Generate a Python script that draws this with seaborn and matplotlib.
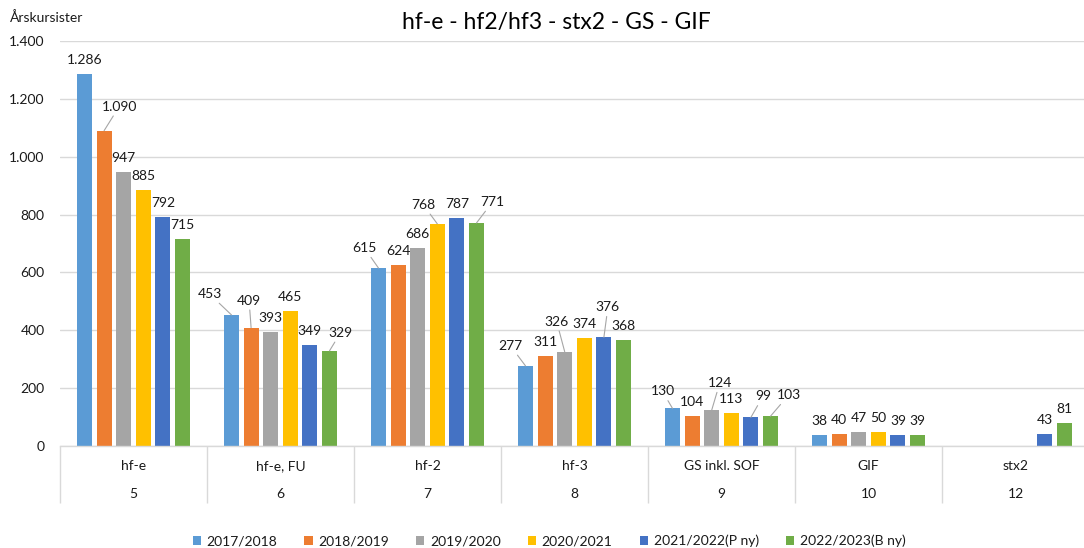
import matplotlib

matplotlib.use("Agg")
import matplotlib.pyplot as plt
import matplotlib.transforms as mtransforms
import numpy as np
import pandas as pd
import seaborn as sns
from matplotlib.ticker import FuncFormatter, MultipleLocator

# --- data ---
categories = ["hf-e", "hf-e, FU", "hf-2", "hf-3", "GS inkl. SOF", "GIF", "stx2"]
category_numbers = ["5", "6", "7", "8", "9", "10", "12"]
seasons = [
    "2017/2018",
    "2018/2019",
    "2019/2020",
    "2020/2021",
    "2021/2022(P ny)",
    "2022/2023(B ny)",
]
v_2017 = [1286, 453, 615, 277, 130, 38, np.nan]
v_2018 = [1090, 409, 624, 311, 104, 40, np.nan]
v_2019 = [947, 393, 686, 326, 124, 47, np.nan]
v_2020 = [885, 465, 768, 374, 113, 50, np.nan]
v_2021 = [792, 349, 787, 376, 99, 39, 43]
v_2022 = [715, 329, 771, 368, 103, 39, 81]

colors = ["#5B9BD5", "#ED7D31", "#A5A5A5", "#FFC000", "#4472C4", "#70AD47"]

# label placement (dx, up) in pixels from the bar top, for the labels Excel moved
label_moves = {
    (0, 1): (15, 24),
    (1, 0): (-22, 21),
    (1, 1): (-2, 27),
    (1, 5): (11, 18),
    (2, 0): (-14, 20),
    (2, 3): (-14, 19),
    (2, 5): (16, 21),
    (3, 0): (-15, 20),
    (3, 2): (-8, 30),
    (3, 4): (4, 30),
    (4, 0): (-10, 17),
    (4, 2): (8, 27),
    (4, 4): (12, 21),
    (4, 5): (18, 21),
}

rows = []
for season, vals in zip(seasons, [v_2017, v_2018, v_2019, v_2020, v_2021, v_2022]):
    for cat, v in zip(categories, vals):
        rows.append({"Kategori": cat, "Sæson": season, "Årskursister": v})
df = pd.DataFrame(rows).dropna()

sns.set_style("white")
plt.rcParams["font.family"] = ["Lato", "DejaVu Sans"]
text_color = "#1A1A1A"
grid_color = "#D9D9D9"


def dot_thousands(v, pos=None):
    return f"{int(round(v)):,}".replace(",", ".")


fig = plt.figure(figsize=(10.84, 5.48), dpi=100)
ax = fig.add_axes([60 / 1084, 102 / 548, 1029 / 1084, 405 / 548])

sns.barplot(
    data=df,
    x="Kategori",
    y="Årskursister",
    hue="Sæson",
    order=categories,
    hue_order=seasons,
    palette=colors,
    saturation=1,
    errorbar=None,
    width=0.8,
    gap=0.23,
    linewidth=0,
    ax=ax,
)

ax.set_xlim(-0.5, len(categories) - 0.5)
ax.set_ylim(0, 1400)
ax.yaxis.set_major_locator(MultipleLocator(200))
ax.yaxis.set_major_formatter(FuncFormatter(dot_thousands))
ax.grid(axis="y", color=grid_color, linewidth=1.0)
ax.set_axisbelow(True)
for side in ["left", "right", "top"]:
    ax.spines[side].set_visible(False)
ax.spines["bottom"].set_color(grid_color)
ax.spines["bottom"].set_linewidth(1.0)
ax.tick_params(axis="y", length=0, pad=11, labelsize=10, labelcolor=text_color)
ax.tick_params(axis="x", length=0, labelbottom=False)
ax.set_xlabel("")
ax.set_ylabel("")

# data labels
px = 0.72
for si, cont in enumerate(ax.containers):
    for bar in cont:
        h = bar.get_height()
        if np.isnan(h) or h == 0:
            continue
        cx = bar.get_x() + bar.get_width() / 2
        ci = int(round(cx))
        dx, up = label_moves.get((ci, si), (0, 14))
        arrow = None
        if (ci, si) in label_moves:
            arrow = dict(arrowstyle="-", color="#A6A6A6", lw=0.8, shrinkA=0, shrinkB=0)
        ax.annotate(
            dot_thousands(h),
            xy=(cx, h),
            xytext=(dx * px, up * px),
            textcoords="offset points",
            ha="center",
            va="center",
            fontsize=10,
            color=text_color,
            arrowprops=arrow,
        )

# category table under the axis
trans = mtransforms.blended_transform_factory(ax.transData, ax.transAxes)
for i, (name, num) in enumerate(zip(categories, category_numbers)):
    ax.text(i, -20 / 405, name, transform=trans, ha="center", va="center",
            fontsize=10, color=text_color)
    ax.text(i, -48 / 405, num, transform=trans, ha="center", va="center",
            fontsize=10, color=text_color)
ax.vlines(np.arange(len(categories)) - 0.5, -57 / 405, 0, transform=trans,
          colors=grid_color, linewidth=1.0, clip_on=False)

fig.text(556 / 1084, 1 - 22 / 548, "hf-e - hf2/hf3 - stx2 - GS - GIF",
         ha="center", va="center", fontsize=16.5, color="#000000")
fig.text(10 / 1084, 1 - 18 / 548, "Årskursister", ha="left", va="center",
         fontsize=10, color=text_color)

sns.move_legend(
    ax,
    loc="center",
    bbox_to_anchor=(549 / 1084, 7 / 548),
    bbox_transform=fig.transFigure,
    ncol=6,
    frameon=False,
    title=None,
    fontsize=10,
    handlelength=0.6,
    handleheight=0.6,
    handletextpad=0.4,
    columnspacing=1.95,
    labelcolor=text_color,
)

fig.savefig("out.png", dpi=100, facecolor="white")
